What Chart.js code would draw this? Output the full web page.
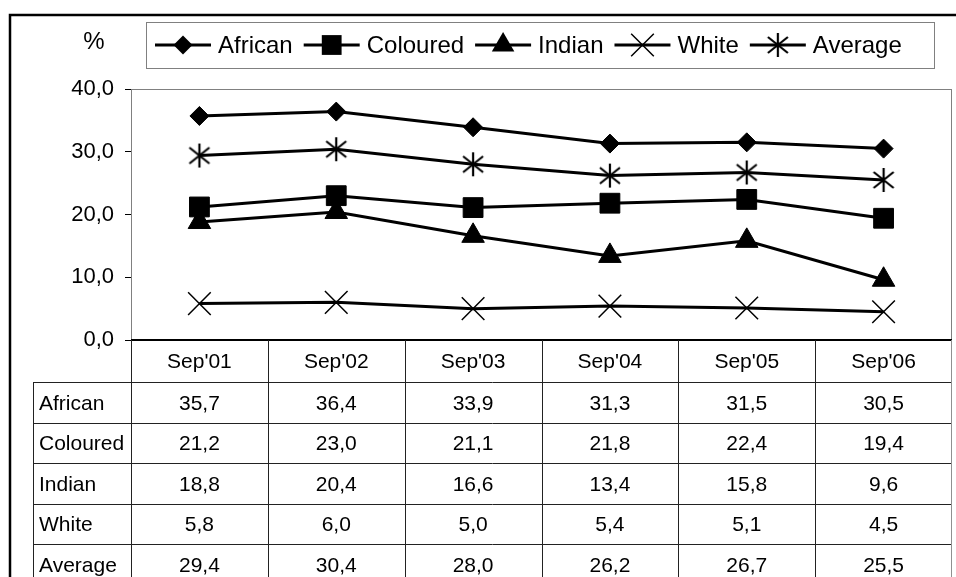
<!DOCTYPE html>
<html>
<head>
<meta charset="utf-8">
<script src="https://cdn.jsdelivr.net/npm/chart.js@4/dist/chart.umd.min.js"></script>
<style>
html, body { margin: 0; padding: 0; background: #fff; }
#wrap { width: 956px; height: 577px; position: relative; overflow: hidden; }
canvas { display: block; }
</style>
</head>
<body>
<div id="wrap"><canvas id="chart" width="956" height="577"></canvas></div>
<script>
// data (values are in the table under the chart)
var categories = ["Sep'01", "Sep'02", "Sep'03", "Sep'04", "Sep'05", "Sep'06"];
var african  = [35.7, 36.4, 33.9, 31.3, 31.5, 30.5];
var coloured = [21.2, 23.0, 21.1, 21.8, 22.4, 19.4];
var indian   = [18.8, 20.4, 16.6, 13.4, 15.8, 9.6];
var white    = [5.8, 6.0, 5.0, 5.4, 5.1, 4.5];
var average  = [29.4, 30.4, 28.0, 26.2, 26.7, 25.5];
var seriesNames = ["African", "Coloured", "Indian", "White", "Average"];
var yTicks = [0, 10, 20, 30, 40];

var FONT = "'Liberation Sans', Arial, sans-serif";

function fmt(v) {
    return v.toFixed(1).replace(".", ",");
}

// excel style asterisk: vertical bar + two diagonals
function makeAsterisk() {
    var c = document.createElement("canvas");
    c.width = 24;
    c.height = 26;
    var g = c.getContext("2d");
    g.strokeStyle = "#000";
    g.lineWidth = 2.2;
    g.beginPath();
    g.moveTo(12, 1); g.lineTo(12, 25);
    g.moveTo(2, 5); g.lineTo(22, 21);
    g.moveTo(22, 5); g.lineTo(2, 21);
    g.stroke();
    return c;
}
var asterisk = makeAsterisk();

var styles = [
    { pointStyle: "rectRot", radius: 9.5 },
    { pointStyle: "rect", radius: 14 },
    { pointStyle: "triangle", radius: 13 },
    { pointStyle: "crossRot", radius: 16 },
    { pointStyle: asterisk, radius: 12 }
];

function drawMarker(ctx, i, x, y) {
    var r = styles[i].radius;
    ctx.save();
    ctx.fillStyle = "#000";
    ctx.strokeStyle = "#000";
    ctx.lineWidth = 1;
    ctx.beginPath();
    if (i === 0) {
        ctx.moveTo(x - r, y); ctx.lineTo(x, y - r); ctx.lineTo(x + r, y); ctx.lineTo(x, y + r);
        ctx.closePath(); ctx.fill();
    } else if (i === 1) {
        var s = r * Math.SQRT1_2;
        ctx.rect(x - s, y - s, 2 * s, 2 * s); ctx.fill();
    } else if (i === 2) {
        ctx.moveTo(x, y - r);
        ctx.lineTo(x + r * 0.866, y + r * 0.5);
        ctx.lineTo(x - r * 0.866, y + r * 0.5);
        ctx.closePath(); ctx.fill();
    } else if (i === 3) {
        var d = r * Math.SQRT1_2;
        ctx.lineWidth = 1.5;
        ctx.moveTo(x - d, y - d); ctx.lineTo(x + d, y + d);
        ctx.moveTo(x + d, y - d); ctx.lineTo(x - d, y + d);
        ctx.stroke();
    } else {
        ctx.drawImage(asterisk, x - asterisk.width / 2, y - asterisk.height / 2);
    }
    ctx.restore();
}

var allSeries = [african, coloured, indian, white, average];

var extras = {
    id: "extras",
    beforeDraw: function (chart) {
        var ctx = chart.ctx;
        ctx.save();
        ctx.fillStyle = "#fff";
        ctx.fillRect(0, 0, chart.width, chart.height);
        ctx.restore();
    },
    beforeDatasetsDraw: function (chart) {
        var ctx = chart.ctx, a = chart.chartArea;
        ctx.save();
        ctx.strokeStyle = "#808080";
        ctx.lineWidth = 1;
        ctx.strokeRect(a.left + 0.5, a.top + 0.5, a.right - a.left - 1, a.bottom - a.top);
        ctx.restore();
    },
    afterDraw: function (chart) {
        var ctx = chart.ctx, a = chart.chartArea;
        var xs = chart.scales.x;
        var colW = (a.right - a.left) / categories.length;
        ctx.save();

        // outer chart border
        ctx.strokeStyle = "#000";
        ctx.lineWidth = 2.5;
        ctx.beginPath();
        ctx.moveTo(10, chart.height);
        ctx.lineTo(10, 15);
        ctx.lineTo(chart.width, 15);
        ctx.stroke();

        // baseline at 0
        ctx.lineWidth = 2;
        ctx.beginPath();
        ctx.moveTo(a.left, a.bottom);
        ctx.lineTo(a.right, a.bottom);
        ctx.stroke();

        // data table
        var headerH = 42, rowH = 40.5;
        var tLeft = 33;
        var top = a.bottom;
        var rowsTop = top + headerH;
        ctx.lineWidth = 1;
        ctx.strokeStyle = "#222";
        ctx.beginPath();
        for (var r = 0; r <= seriesNames.length; r++) {
            var yy = Math.round(rowsTop + r * rowH) + 0.5;
            ctx.moveTo(tLeft, yy);
            ctx.lineTo(a.right, yy);
        }
        ctx.moveTo(tLeft + 0.5, rowsTop);
        ctx.lineTo(tLeft + 0.5, chart.height);
        for (var c = 0; c < categories.length; c++) {
            var xx = Math.round(a.left + c * colW) + 0.5;
            ctx.moveTo(xx, top);
            ctx.lineTo(xx, chart.height);
        }
        ctx.stroke();
        ctx.strokeStyle = "#909090";
        ctx.beginPath();
        ctx.moveTo(a.right - 0.5, top);
        ctx.lineTo(a.right - 0.5, chart.height);
        ctx.stroke();

        ctx.fillStyle = "#000";
        ctx.textBaseline = "middle";
        ctx.font = "21px " + FONT;
        ctx.textAlign = "center";
        categories.forEach(function (cat, i) {
            ctx.fillText(cat, xs.getPixelForValue(i), top + headerH / 2 + 1);
        });
        seriesNames.forEach(function (name, r) {
            var cy = rowsTop + r * rowH + rowH / 2 + 1.5;
            ctx.textAlign = "left";
            ctx.fillText(name, tLeft + 6, cy);
            ctx.textAlign = "center";
            allSeries[r].forEach(function (v, i) {
                ctx.fillText(fmt(v), xs.getPixelForValue(i), cy);
            });
        });

        // axis unit
        ctx.font = "24px " + FONT;
        ctx.textAlign = "center";
        ctx.fillText("%", 94, 42);

        // legend box
        ctx.strokeStyle = "#808080";
        ctx.lineWidth = 1;
        ctx.strokeRect(146.5, 22.5, 788, 46);
        var lx = 155, ly = 45;
        seriesNames.forEach(function (name, i) {
            ctx.strokeStyle = "#000";
            ctx.lineWidth = 3;
            ctx.beginPath();
            ctx.moveTo(lx, ly);
            ctx.lineTo(lx + 56, ly);
            ctx.stroke();
            drawMarker(ctx, i, lx + 28, ly);
            ctx.fillStyle = "#000";
            ctx.textAlign = "left";
            ctx.fillText(name, lx + 63, ly + 1);
            lx += 63 + ctx.measureText(name).width + 11;
        });
        ctx.restore();
    }
};

var datasets = allSeries.map(function (vals, i) {
    return {
        label: seriesNames[i],
        data: vals,
        borderColor: "#000",
        backgroundColor: "#000",
        borderWidth: 3,
        pointStyle: styles[i].pointStyle,
        pointRadius: styles[i].radius,
        pointHoverRadius: styles[i].radius,
        pointBackgroundColor: "#000",
        pointBorderColor: "#000",
        pointBorderWidth: i === 3 ? 1.5 : 1,
        tension: 0,
        clip: false
    };
});

new Chart(document.getElementById("chart"), {
    type: "line",
    data: { labels: categories, datasets: datasets },
    options: {
        responsive: false,
        animation: false,
        devicePixelRatio: 1,
        layout: { autoPadding: false, padding: { left: 0, right: 4, top: 89, bottom: 237 } },
        plugins: { legend: { display: false }, tooltip: { enabled: false } },
        scales: {
            x: { display: false, offset: true },
            y: {
                min: 0,
                max: 40,
                afterBuildTicks: function (s) {
                    s.ticks = yTicks.map(function (v) { return { value: v }; });
                },
                afterFit: function (s) { s.width = 131; },
                border: { display: true, color: "#000", width: 1 },
                grid: { drawOnChartArea: false, drawTicks: true, tickLength: 6, color: "#000" },
                ticks: {
                    padding: 11,
                    color: "#000",
                    font: { family: FONT, size: 22 },
                    callback: function (v) { return fmt(v); }
                }
            }
        }
    },
    plugins: [extras]
});
</script>
</body>
</html>
